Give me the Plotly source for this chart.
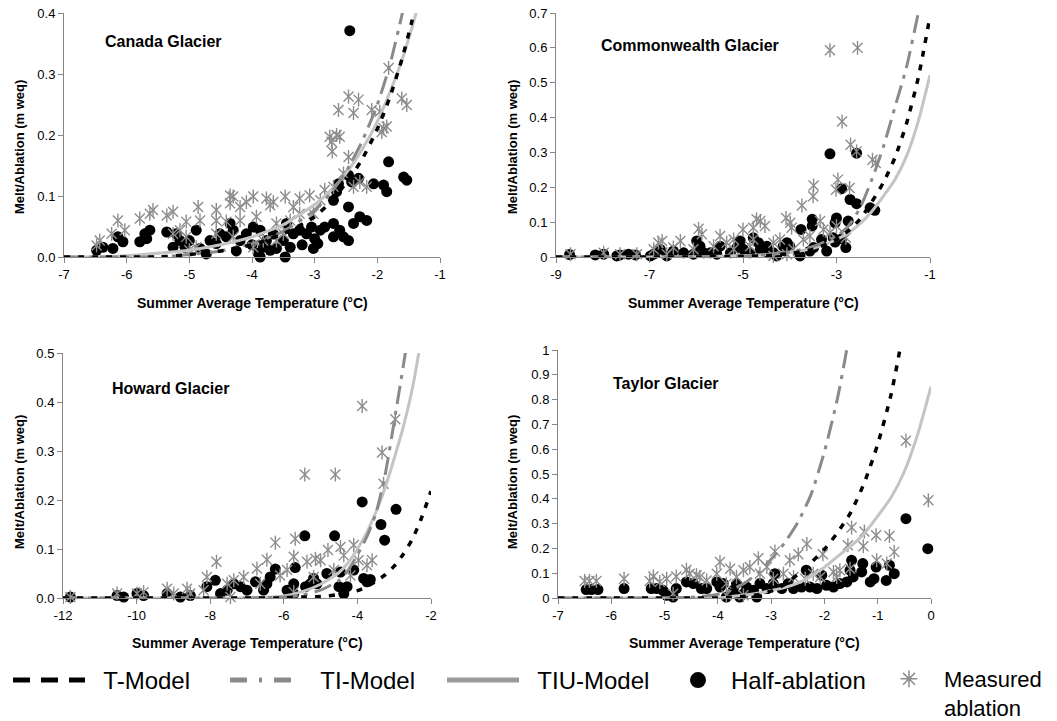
import plotly.graph_objects as go

# ---------------- Canada Glacier ----------------
canada_half_t = [-2.44, -1.82, -1.58, -1.53, -1.90, -1.85, -2.06, -2.46, -2.41, -2.30, -2.62, -2.65, -2.70,
                 -2.46, -2.17, -2.28, -2.38, -2.46, -3.02, -2.91, -2.84, -2.70, -2.60, -2.54, -2.70, -3.34,
                 -3.24, -3.13, -3.05, -3.45, -3.50, -3.39, -3.47, -3.66, -3.77, -3.87, -3.82, -3.71, -3.61,
                 -3.98, -4.09, -4.19, -4.30, -4.35, -4.41, -4.51, -4.57, -4.67, -4.73, -4.83, -4.89, -5.00,
                 -5.07, -5.15, -5.21, -5.26, -5.36, -5.63, -5.71, -5.68, -5.79, -6.06, -6.14, -6.22, -6.38,
                 -6.48, -3.87, -4.00, -3.20, -3.00, -2.95, -4.25, -3.90]
canada_half_v = [0.371, 0.156, 0.131, 0.126, 0.118, 0.107, 0.120, 0.134, 0.123, 0.129, 0.120, 0.107, 0.093,
                 0.082, 0.060, 0.066, 0.055, 0.027, 0.014, 0.044, 0.049, 0.055, 0.044, 0.033, 0.033, 0.038,
                 0.044, 0.038, 0.049, 0.055, 0.027, 0.016, 0.000, 0.038, 0.027, 0.044, 0.016, 0.011, 0.014,
                 0.049, 0.038, 0.027, 0.044, 0.055, 0.033, 0.038, 0.022, 0.027, 0.005, 0.014, 0.044, 0.027,
                 0.016, 0.027, 0.038, 0.016, 0.041, 0.044, 0.038, 0.030, 0.025, 0.025, 0.033, 0.014, 0.016,
                 0.011, 0.000, 0.020, 0.020, 0.030, 0.022, 0.010, 0.006]
canada_meas_t = [-1.82, -1.61, -1.53, -2.46, -2.30, -2.38, -2.62, -2.09, -1.96, -1.90, -1.85, -1.93, -2.76,
                 -2.65, -2.60, -2.73, -2.72, -2.46, -2.70, -2.28, -2.17, -2.38, -3.08, -3.24, -3.34, -3.47,
                 -3.66, -3.77, -3.71, -3.98, -4.09, -4.19, -4.35, -4.30, -4.35, -4.57, -4.86, -5.26, -5.36,
                 -5.58, -5.63, -5.79, -6.03, -6.14, -6.24, -6.43, -6.48, -2.91, -3.02, -2.84, -2.54, -3.39,
                 -3.24, -3.61, -3.93, -4.19, -4.41, -4.57, -4.83, -5.05, -5.15, -5.26, -5.05, -4.89, -5.00,
                 -3.61, -3.50, -3.82, -3.98, -4.30, -4.57]
canada_meas_v = [0.310, 0.260, 0.249, 0.263, 0.258, 0.236, 0.241, 0.241, 0.238, 0.211, 0.214, 0.205, 0.197,
                 0.200, 0.197, 0.189, 0.173, 0.164, 0.115, 0.123, 0.115, 0.115, 0.101, 0.096, 0.082, 0.099,
                 0.090, 0.096, 0.085, 0.099, 0.090, 0.082, 0.101, 0.099, 0.088, 0.077, 0.082, 0.074, 0.068,
                 0.077, 0.071, 0.063, 0.044, 0.060, 0.038, 0.027, 0.019, 0.093, 0.071, 0.110, 0.137, 0.060,
                 0.071, 0.055, 0.066, 0.060, 0.058, 0.060, 0.060, 0.058, 0.044, 0.038, 0.033, 0.016, 0.011,
                 0.027, 0.038, 0.027, 0.016, 0.033, 0.038]
canada_grid = [-7.0, -6.5, -6.0, -5.5, -5.0, -4.5, -4.0, -3.5, -3.0, -2.75, -2.5, -2.25, -2.0, -1.8, -1.6, -1.45, -1.3]
canada_t_model = [0.0, 0.0, 0.0, 0.0, 0.004, 0.010, 0.020, 0.038, 0.066, 0.090, 0.121, 0.159, 0.210, 0.262, 0.327, 0.386, 0.458]
canada_ti_model = [0.0, 0.0, 0.0, 0.0, 0.004, 0.010, 0.022, 0.042, 0.077, 0.104, 0.140, 0.188, 0.250, 0.315, 0.400, 0.470, 0.550]
canada_tiu_model = [0.0, 0.0, 0.002, 0.006, 0.011, 0.020, 0.033, 0.053, 0.086, 0.108, 0.137, 0.175, 0.222, 0.270, 0.325, 0.375, 0.430]

# ---------------- Commonwealth Glacier ----------------
common_half_t = [-3.14, -2.57, -2.89, -2.71, -2.57, -2.28, -2.18, -3.00, -3.03, -2.75, -3.07, -2.89, -2.80,
                 -3.03, -3.52, -3.52, -3.76, -3.49, -3.21, -3.32, -3.57, -4.06, -4.14, -4.00, -3.78, -4.78,
                 -4.67, -4.49, -4.46, -4.63, -4.85, -5.06, -5.13, -5.27, -4.99, -5.49, -5.56, -5.70, -5.84,
                 -5.99, -5.92, -6.06, -6.27, -6.49, -6.63, -6.77, -6.91, -6.98, -7.30, -7.45, -7.63, -7.70,
                 -7.98, -8.16, -8.71, -4.28, -4.35]
common_half_v = [0.296, 0.298, 0.196, 0.165, 0.153, 0.141, 0.134, 0.112, 0.098, 0.103, 0.055, 0.052, 0.027,
                 0.043, 0.108, 0.089, 0.079, 0.027, 0.017, 0.050, 0.017, 0.041, 0.031, 0.031, 0.003, 0.055,
                 0.041, 0.031, 0.012, 0.022, 0.012, 0.046, 0.027, 0.012, 0.022, 0.031, 0.008, 0.012, 0.012,
                 0.046, 0.031, 0.008, 0.012, 0.017, 0.003, 0.022, 0.008, 0.003, 0.006, 0.008, 0.006, 0.003,
                 0.008, 0.006, 0.007, 0.003, 0.012]
common_meas_t = [-3.14, -2.55, -2.88, -2.70, -2.57, -2.23, -2.16, -3.49, -3.50, -3.74, -2.97, -3.01, -2.72,
                 -4.08, -3.99, -3.96, -4.71, -4.63, -4.53, -4.78, -5.00, -5.95, -5.88, -5.49, -6.34, -6.81,
                 -6.73, -3.35, -3.28, -3.00, -3.14, -3.57, -3.71, -4.21, -4.35, -4.78, -5.20, -5.35, -5.63,
                 -6.06, -6.49, -6.91, -7.27, -7.63, -7.98, -8.69, -2.80, -3.92, -4.06, -4.35, -4.85, -5.20,
                 -6.63]
common_meas_v = [0.593, 0.600, 0.389, 0.322, 0.303, 0.279, 0.270, 0.205, 0.174, 0.148, 0.222, 0.193, 0.198,
                 0.112, 0.098, 0.084, 0.108, 0.103, 0.089, 0.084, 0.079, 0.081, 0.065, 0.060, 0.046, 0.041,
                 0.046, 0.103, 0.079, 0.089, 0.070, 0.060, 0.050, 0.050, 0.041, 0.050, 0.050, 0.041, 0.031,
                 0.022, 0.027, 0.022, 0.008, 0.008, 0.012, 0.008, 0.055, 0.022, 0.008, 0.003, 0.031, 0.022,
                 0.008]
common_grid = [-9.0, -8.0, -7.0, -6.0, -5.0, -4.5, -4.0, -3.5, -3.0, -2.75, -2.5, -2.25, -2.0, -1.75, -1.5, -1.25, -1.0]
common_t_model = [0.0, 0.0, 0.0, 0.0, 0.002, 0.004, 0.010, 0.022, 0.050, 0.075, 0.108, 0.157, 0.213, 0.285, 0.384, 0.515, 0.690]
common_ti_model = [0.0, 0.0, 0.0, 0.001, 0.003, 0.007, 0.015, 0.030, 0.060, 0.088, 0.140, 0.220, 0.315, 0.430, 0.546, 0.700, 0.850]
common_tiu_model = [0.0, 0.0, 0.0, 0.001, 0.004, 0.007, 0.013, 0.025, 0.050, 0.069, 0.095, 0.130, 0.174, 0.222, 0.290, 0.390, 0.522]

# ---------------- Howard Glacier ----------------
howard_half_t = [-3.87, -2.95, -3.36, -3.26, -5.43, -4.62, -5.69, -6.23, -4.46, -4.10, -3.83, -3.65, -3.74,
                 -4.28, -4.50, -4.37, -4.83, -5.10, -5.28, -5.19, -5.41, -5.73, -5.73, -5.91, -6.37, -6.46,
                 -6.55, -6.77, -7.00, -7.18, -7.36, -7.54, -7.72, -7.86, -8.09, -8.54, -8.81, -9.17, -9.81,
                 -9.99, -10.35, -10.53, -11.80]
howard_half_v = [0.196, 0.181, 0.150, 0.118, 0.127, 0.127, 0.062, 0.059, 0.053, 0.057, 0.040, 0.038, 0.033,
                 0.023, 0.023, 0.009, 0.050, 0.029, 0.029, 0.040, 0.023, 0.029, 0.009, 0.016, 0.043, 0.029,
                 0.016, 0.033, 0.016, 0.023, 0.029, 0.016, 0.009, 0.036, 0.023, 0.005, 0.002, 0.009, 0.005,
                 0.009, 0.002, 0.005, 0.002]
howard_meas_t = [-3.87, -2.97, -3.33, -3.29, -5.43, -4.60, -6.23, -5.69, -4.10, -4.46, -4.80, -5.14, -5.00,
                 -4.37, -3.97, -3.60, -3.74, -6.46, -6.73, -7.83, -5.73, -5.37, -4.19, -4.64, -5.19, -5.91,
                 -6.10, -6.64, -7.09, -7.36, -7.54, -8.09, -8.18, -8.63, -8.54, -9.17, -8.99, -9.81, -9.99,
                 -10.53, -11.80, -7.45, -5.73]
howard_meas_v = [0.392, 0.365, 0.297, 0.233, 0.252, 0.252, 0.113, 0.121, 0.108, 0.104, 0.098, 0.080, 0.077,
                 0.087, 0.077, 0.077, 0.067, 0.078, 0.060, 0.074, 0.084, 0.074, 0.046, 0.057, 0.043, 0.057,
                 0.046, 0.029, 0.043, 0.036, 0.029, 0.043, 0.016, 0.019, 0.009, 0.019, 0.009, 0.012, 0.009,
                 0.009, 0.002, 0.002, 0.012]
howard_grid = [-12.0, -11.0, -10.0, -9.0, -8.0, -7.0, -6.0, -5.5, -5.0, -4.5, -4.25, -4.0, -3.75, -3.5, -3.25,
               -3.0, -2.75, -2.5, -2.25, -2.0]
howard_t_model = [0.0, 0.0, 0.0, 0.0, 0.0, 0.0, 0.0, 0.002, 0.003, 0.007, 0.011, 0.015, 0.023, 0.034, 0.047,
                  0.065, 0.090, 0.121, 0.165, 0.218]
howard_ti_model = [0.0, 0.0, 0.0, 0.0, 0.0, 0.0, 0.002, 0.006, 0.016, 0.036, 0.057, 0.088, 0.124, 0.172, 0.250,
                   0.360, 0.475, 0.600, 0.800, 1.000]
howard_tiu_model = [0.0, 0.0, 0.0, 0.0, 0.0, 0.0, 0.004, 0.013, 0.028, 0.052, 0.072, 0.100, 0.133, 0.175, 0.224,
                    0.285, 0.350, 0.430, 0.540, 0.680]

# ---------------- Taylor Glacier ----------------
taylor_half_t = [-0.47, -0.06, -0.69, -0.84, -0.78, -1.03, -1.07, -1.14, -1.28, -1.30, -1.49, -1.52, -1.46,
                 -1.58, -1.71, -1.83, -1.96, -2.05, -2.14, -2.27, -2.34, -2.43, -2.58, -2.68, -2.80, -2.96,
                 -3.08, -2.93, -3.21, -3.27, -3.33, -3.46, -3.52, -3.59, -3.65, -3.71, -3.84, -3.90, -3.96,
                 -4.02, -4.21, -4.31, -4.46, -4.59, -4.78, -4.84, -4.96, -5.03, -5.15, -5.25, -5.76, -6.25,
                 -6.37, -6.47]
taylor_half_v = [0.320, 0.199, 0.098, 0.071, 0.132, 0.125, 0.078, 0.065, 0.139, 0.105, 0.152, 0.112, 0.085,
                 0.065, 0.058, 0.044, 0.051, 0.092, 0.038, 0.044, 0.112, 0.044, 0.038, 0.058, 0.038, 0.058,
                 0.038, 0.098, 0.058, 0.004, 0.031, 0.044, 0.017, 0.004, 0.058, 0.031, 0.004, 0.058, 0.044,
                 0.065, 0.038, 0.038, 0.058, 0.065, 0.038, 0.004, 0.011, 0.031, 0.038, 0.038, 0.038, 0.034,
                 0.034, 0.034]
taylor_meas_t = [-0.47, -0.05, -1.49, -1.25, -1.03, -0.78, -0.69, -1.56, -1.27, -1.02, -0.83, -2.93, -2.33,
                 -2.49, -2.65, -2.03, -3.24, -3.77, -3.96, -3.40, -4.59, -4.53, -4.40, -4.78, -4.96, -5.21,
                 -5.09, -5.28, -5.76, -6.28, -6.41, -6.50, -1.83, -2.08, -2.21, -2.36, -2.58, -2.77, -2.96,
                 -3.08, -3.21, -3.52, -3.65, -3.84, -4.21, -4.34, -4.02, -1.71, -1.52, -1.77, -4.84, -3.84,
                 -3.52]
taylor_meas_v = [0.634, 0.394, 0.284, 0.268, 0.253, 0.250, 0.186, 0.213, 0.209, 0.152, 0.139, 0.188, 0.218,
                 0.176, 0.152, 0.176, 0.160, 0.118, 0.145, 0.125, 0.114, 0.098, 0.092, 0.087, 0.078, 0.087,
                 0.065, 0.069, 0.078, 0.069, 0.069, 0.069, 0.105, 0.085, 0.098, 0.078, 0.085, 0.098, 0.078,
                 0.125, 0.098, 0.112, 0.085, 0.058, 0.071, 0.085, 0.098, 0.112, 0.118, 0.085, 0.017, 0.011,
                 0.011]
taylor_grid = [-7.0, -6.0, -5.0, -4.5, -4.0, -3.75, -3.5, -3.25, -3.0, -2.75, -2.5, -2.25, -2.0, -1.75, -1.5,
               -1.25, -1.0, -0.75, -0.5, -0.25, 0.0]
taylor_t_model = [0.0, 0.0, 0.0, 0.0, 0.0, 0.003, 0.007, 0.013, 0.028, 0.054, 0.095, 0.143, 0.196, 0.265, 0.347,
                  0.466, 0.620, 0.820, 1.100, 1.450, 1.900]
taylor_ti_model = [0.0, 0.0, 0.0, 0.003, 0.015, 0.033, 0.060, 0.100, 0.156, 0.222, 0.305, 0.418, 0.590, 0.810,
                   1.100, 1.450, 1.900, 2.400, 3.000, 3.700, 4.500]
taylor_tiu_model = [0.0, 0.0, 0.0, 0.0, 0.0, 0.006, 0.012, 0.019, 0.030, 0.042, 0.060, 0.088, 0.124, 0.168, 0.210,
                    0.260, 0.330, 0.405, 0.510, 0.660, 0.852]

# ---------------- axis ticks ----------------
canada_xticks = [-7, -6, -5, -4, -3, -2, -1]
canada_xtick_labels = ["-7", "-6", "-5", "-4", "-3", "-2", "-1"]
common_xticks = [-9, -7, -5, -3, -1]
common_xtick_labels = ["-9", "-7", "-5", "-3", "-1"]
howard_xticks = [-12, -10, -8, -6, -4, -2]
howard_xtick_labels = ["-12", "-10", "-8", "-6", "-4", "-2"]
taylor_xticks = [-7, -6, -5, -4, -3, -2, -1, 0]
taylor_xtick_labels = ["-7", "-6", "-5", "-4", "-3", "-2", "-1", "0"]

glacier_names = ["Canada Glacier", "Commonwealth Glacier", "Howard Glacier", "Taylor Glacier"]
legend_names = ["T-Model", "TI-Model", "TIU-Model", "Half-ablation", "Measured<br>ablation"]

W, H = 1057, 721
FONT = "Liberation Sans, Arial, sans-serif"
AXIS_GREY = "#868686"
STAR_GREY = "#8c8c8c"
TI_GREY = "#8a8a8a"
TIU_GREY = "#c4c4c4"
NBSP2 = "\u00a0\u00a0"  # small gap between a line key and its label


def px_x(p):
    return p / W


def px_y(p):
    return 1 - p / H


panels = [
    dict(name=glacier_names[0], half=(canada_half_t, canada_half_v), meas=(canada_meas_t, canada_meas_v),
         grid=canada_grid, t=canada_t_model, ti=canada_ti_model, tiu=canada_tiu_model,
         xr=[-7, -1], yr=[0, 0.4], xt=canada_xticks, xl=canada_xtick_labels, ydt=0.1, yfmt=".1f",
         dom_x=(64, 440), dom_y=(13, 257), title_xy=(103, 42), xtitle_y=303, ytitle=(19, 147)),
    dict(name=glacier_names[1], half=(common_half_t, common_half_v), meas=(common_meas_t, common_meas_v),
         grid=common_grid, t=common_t_model, ti=common_ti_model, tiu=common_tiu_model,
         xr=[-9, -1], yr=[0, 0.7], xt=common_xticks, xl=common_xtick_labels, ydt=0.1, yfmt="",
         dom_x=(556, 930), dom_y=(13, 257), title_xy=(599, 46), xtitle_y=303, ytitle=(512, 147)),
    dict(name=glacier_names[2], half=(howard_half_t, howard_half_v), meas=(howard_meas_t, howard_meas_v),
         grid=howard_grid, t=howard_t_model, ti=howard_ti_model, tiu=howard_tiu_model,
         xr=[-12, -2], yr=[0, 0.5], xt=howard_xticks, xl=howard_xtick_labels, ydt=0.1, yfmt=".1f",
         dom_x=(63, 431), dom_y=(353, 598), title_xy=(110, 388), xtitle_y=643, ytitle=(19, 482)),
    dict(name=glacier_names[3], half=(taylor_half_t, taylor_half_v), meas=(taylor_meas_t, taylor_meas_v),
         grid=taylor_grid, t=taylor_t_model, ti=taylor_ti_model, tiu=taylor_tiu_model,
         xr=[-7, 0], yr=[0, 1], xt=taylor_xticks, xl=taylor_xtick_labels, ydt=0.1, yfmt="",
         dom_x=(558, 931), dom_y=(350, 598), title_xy=(611, 383), xtitle_y=643, ytitle=(512, 482)),
]

fig = go.Figure()
annotations = []
layout_axes = {}

for i, p in enumerate(panels, start=1):
    sfx = "" if i == 1 else str(i)
    xa, ya = "x" + sfx, "y" + sfx

    # observations: half-ablation dots, then measured ablation stars on top
    fig.add_trace(go.Scatter(x=p["half"][0], y=p["half"][1], xaxis=xa, yaxis=ya, mode="markers",
                             marker=dict(symbol="circle", size=11, color="black"),
                             cliponaxis=False, showlegend=False, hoverinfo="skip"))
    for sym in ("x-thin-open", "line-ns-open"):
        fig.add_trace(go.Scatter(x=p["meas"][0], y=p["meas"][1], xaxis=xa, yaxis=ya, mode="markers",
                                 marker=dict(symbol=sym, size=10, color=STAR_GREY,
                                             line=dict(color=STAR_GREY, width=1.4)),
                                 cliponaxis=False, showlegend=False, hoverinfo="skip"))

    # model curves
    fig.add_trace(go.Scatter(x=p["grid"], y=p["tiu"], xaxis=xa, yaxis=ya, mode="lines",
                             line=dict(color=TIU_GREY, width=3, shape="spline", smoothing=0.6),
                             showlegend=False, hoverinfo="skip"))
    fig.add_trace(go.Scatter(x=p["grid"], y=p["ti"], xaxis=xa, yaxis=ya, mode="lines",
                             line=dict(color=TI_GREY, width=3, dash="18px,7px,4px,7px",
                                       shape="spline", smoothing=0.6),
                             showlegend=False, hoverinfo="skip"))
    fig.add_trace(go.Scatter(x=p["grid"], y=p["t"], xaxis=xa, yaxis=ya, mode="lines",
                             line=dict(color="black", width=3.5, dash="6px,8px", shape="spline", smoothing=0.6),
                             showlegend=False, hoverinfo="skip"))

    common_axis = dict(showgrid=False, zeroline=False, showline=True, linecolor=AXIS_GREY, linewidth=1,
                       ticks="outside", ticklen=5, tickcolor=AXIS_GREY, tickwidth=1,
                       tickfont=dict(family=FONT, size=13, color="black"), fixedrange=True)
    layout_axes["xaxis" + sfx] = dict(common_axis, domain=[px_x(p["dom_x"][0]), px_x(p["dom_x"][1])],
                                      range=p["xr"], tickmode="array", tickvals=p["xt"], ticktext=p["xl"],
                                      anchor=ya)
    layout_axes["yaxis" + sfx] = dict(common_axis, domain=[px_y(p["dom_y"][1]), px_y(p["dom_y"][0])],
                                      range=p["yr"], dtick=p["ydt"], tick0=0, tickformat=p["yfmt"],
                                      anchor=xa)

    annotations.append(dict(text="<b>%s</b>" % p["name"], xref="paper", yref="paper",
                            x=px_x(p["title_xy"][0]), y=px_y(p["title_xy"][1]), xanchor="left",
                            yanchor="middle", showarrow=False, font=dict(family=FONT, size=16, color="black")))
    annotations.append(dict(text="<b>Summer Average Temperature (°C)</b>", xref="paper", yref="paper",
                            x=px_x((p["dom_x"][0] + p["dom_x"][1]) / 2), y=px_y(p["xtitle_y"]),
                            xanchor="center", yanchor="middle", showarrow=False,
                            font=dict(family=FONT, size=14, color="black")))
    annotations.append(dict(text="<b>Melt/Ablation (m weq)</b>", xref="paper", yref="paper",
                            x=px_x(p["ytitle"][0]), y=px_y(p["ytitle"][1]), xanchor="center",
                            yanchor="middle", textangle=-90, showarrow=False,
                            font=dict(family=FONT, size=13, color="black")))

# legend entries, each in its own legend box along the bottom of the figure
legend_keys = ["legend", "legend2", "legend3", "legend4", "legend5"]
fig.add_trace(go.Scatter(x=[None], y=[None], mode="lines", name=NBSP2 + legend_names[0], legend=legend_keys[0],
                         line=dict(color="black", width=5, dash="17px,11px")))
fig.add_trace(go.Scatter(x=[None], y=[None], mode="lines", name=NBSP2 + legend_names[1], legend=legend_keys[1],
                         line=dict(color=TI_GREY, width=5, dash="17px,12px,3px,12px")))
fig.add_trace(go.Scatter(x=[None], y=[None], mode="lines", name=NBSP2 + legend_names[2], legend=legend_keys[2],
                         line=dict(color="#9b9b9b", width=5)))
fig.add_trace(go.Scatter(x=[None], y=[None], mode="markers", name=legend_names[3], legend=legend_keys[3],
                         marker=dict(symbol="circle", size=16, color="black")))
fig.add_trace(go.Scatter(x=[None], y=[None], mode="markers", name=legend_names[4], legend=legend_keys[4],
                         marker=dict(symbol="asterisk-open", size=14, color=STAR_GREY,
                                     line=dict(color=STAR_GREY, width=1.5))))

legend_left_px = [8, 225, 442, 665, 874]
legend_top_px = [658, 658, 658, 658, 658]
legend_item_w = [72, 72, 72, 56, 60]
legend_font_px = [24, 24, 24, 24, 22]
legend_layouts = {}
for key, left, top, iw, fs in zip(legend_keys, legend_left_px, legend_top_px, legend_item_w, legend_font_px):
    legend_layouts[key] = dict(orientation="h", x=px_x(left), xanchor="left", y=px_y(top), yanchor="top",
                               font=dict(family=FONT, size=fs, color="black"), itemwidth=iw,
                               valign="top", bgcolor="rgba(0,0,0,0)", borderwidth=0,
                               itemclick=False, itemdoubleclick=False)

fig.update_layout(
    width=W, height=H, autosize=False,
    margin=dict(l=0, r=0, t=0, b=0, autoexpand=False),
    paper_bgcolor="white", plot_bgcolor="white",
    font=dict(family=FONT, color="black"),
    annotations=annotations,
    showlegend=True,
    **legend_layouts,
    **layout_axes,
)

fig.write_html("out.html")
